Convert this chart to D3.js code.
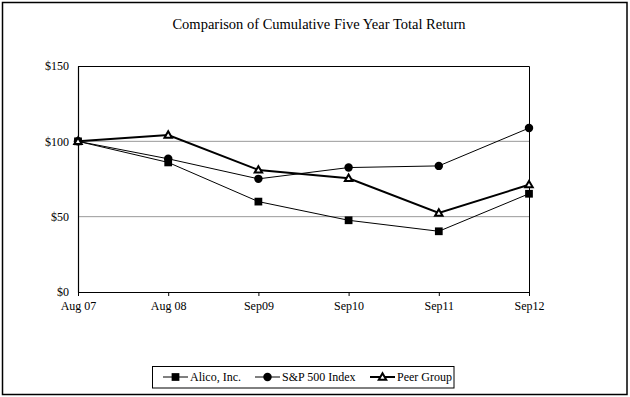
<!DOCTYPE html>
<html>
<head>
<meta charset="utf-8">
<script src="https://cdn.jsdelivr.net/npm/d3@7"></script>
<style>
  body { margin: 0; background: #fff; }
</style>
</head>
<body>
<div id="chart"></div>
<script>
// data
const periods = ["Aug 07", "Aug 08", "Sep09", "Sep10", "Sep11", "Sep12"];
const alico = [100, 86, 60, 47.6, 40.3, 65.2];
const sp500 = [100, 88.4, 75.1, 82.6, 83.7, 108.8];
const peer = [100, 104.2, 81, 75.5, 52.4, 71.2];
const yTicks = [0, 50, 100, 150];

const width = 630, height = 397;
const margin = { top: 66, right: 101, bottom: 105, left: 78 };
const serif = "'Liberation Serif', 'Times New Roman', 'DejaVu Serif', serif";

const svg = d3.select("#chart").append("svg")
  .attr("width", width)
  .attr("height", height)
  .style("font-family", serif);

// outer frame
svg.append("rect")
  .attr("x", 2.5).attr("y", 2.5)
  .attr("width", 624.5).attr("height", 392)
  .attr("fill", "#fff")
  .attr("stroke", "#000")
  .attr("stroke-width", 1.5);

svg.append("text")
  .attr("x", 319).attr("y", 29)
  .attr("text-anchor", "middle")
  .style("font-size", "14.5px")
  .text("Comparison of Cumulative Five Year Total Return");

const x = d3.scalePoint()
  .domain(periods)
  .range([margin.left, width - margin.right]);

const y = d3.scaleLinear()
  .domain([0, 150])
  .range([height - margin.bottom, margin.top]);

// gridlines
svg.append("g")
  .selectAll("line")
  .data(yTicks.filter(d => d > 0 && d < 150))
  .enter().append("line")
  .attr("x1", margin.left).attr("x2", width - margin.right)
  .attr("y1", d => y(d)).attr("y2", d => y(d))
  .attr("stroke", "#999")
  .attr("stroke-width", 1);

// top + right frame of the plot area
svg.append("path")
  .attr("d", "M" + margin.left + "," + (y(150) + 0.5) + "H" + (width - margin.right + 0.5) + "V" + y(0))
  .attr("fill", "none")
  .attr("stroke", "#000")
  .attr("stroke-width", 1);

const xAxis = svg.append("g")
  .attr("transform", "translate(0," + y(0) + ")")
  .call(d3.axisBottom(x).tickSize(4).tickSizeOuter(0));
xAxis.selectAll("text").attr("dy", "0.95em");

const yAxis = svg.append("g")
  .attr("transform", "translate(" + margin.left + ",0)")
  .call(d3.axisLeft(y).tickValues(yTicks).tickSize(0).tickPadding(9).tickFormat(d => "$" + d));

svg.selectAll(".tick text")
  .style("font-family", serif)
  .style("font-size", "12px")
  .attr("fill", "#000");
svg.selectAll(".domain").attr("stroke", "#000").attr("stroke-width", 1.2);
svg.selectAll(".tick line").attr("stroke", "#000");

const line = d3.line()
  .x((d, i) => x(periods[i]))
  .y(d => y(d));

const series = [
  { name: "Alico, Inc.", values: alico, width: 1, marker: "square" },
  { name: "S&P 500 Index", values: sp500, width: 1, marker: "circle" },
  { name: "Peer Group", values: peer, width: 2, marker: "triangle" }
];

const symbolFor = {
  square: d3.symbol().type(d3.symbolSquare).size(60),
  circle: d3.symbol().type(d3.symbolCircle).size(56),
  triangle: d3.symbol().type(d3.symbolTriangle).size(24)
};

function drawMarker(g, s, cx, cy) {
  g.append("path")
    .attr("d", symbolFor[s.marker]())
    .attr("transform", "translate(" + cx + "," + (s.marker === "triangle" ? cy + 0.5 : cy) + ")")
    .attr("fill", s.marker === "triangle" ? "#fff" : "#000")
    .attr("stroke", "#000")
    .attr("stroke-width", s.marker === "triangle" ? 2 : 0);
}

series.forEach(s => {
  svg.append("path")
    .datum(s.values)
    .attr("d", line)
    .attr("fill", "none")
    .attr("stroke", "#000")
    .attr("stroke-width", s.width);
});
series.forEach(s => {
  const g = svg.append("g");
  s.values.forEach((v, i) => drawMarker(g, s, x(periods[i]), y(v)));
});

// legend
const legend = svg.append("g");
legend.append("rect")
  .attr("x", 152.5).attr("y", 366.5)
  .attr("width", 301.5).attr("height", 21.5)
  .attr("fill", "#fff")
  .attr("stroke", "#000")
  .attr("stroke-width", 1);

const itemX = [163, 255, 370];
series.forEach((s, i) => {
  const g = legend.append("g").attr("transform", "translate(" + itemX[i] + ",377)");
  g.append("line")
    .attr("x1", 0).attr("x2", 25)
    .attr("stroke", "#000")
    .attr("stroke-width", s.width);
  drawMarker(g, s, 12.5, 0);
  g.append("text")
    .attr("x", 27).attr("y", 0)
    .attr("dy", "0.35em")
    .style("font-size", "12px")
    .text(s.name);
});
</script>
</body>
</html>
